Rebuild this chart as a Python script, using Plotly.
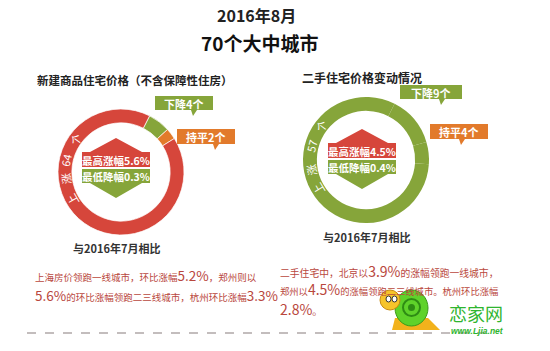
import math
import plotly.graph_objects as go

# ---------------- data ----------------
categories = ["下降", "持平", "上涨"]
new_counts = [4, 2, 64]          # 新建商品住宅
second_counts = [9, 4, 57]       # 二手住宅
new_extremes = [5.6, 0.3]        # 最高涨幅, 最低降幅
second_extremes = [4.5, 0.4]
title_month = "2016年8月"
title_main = "70个大中城市"
compare_label = "与2016年7月相比"

W, H = 550, 351
RED = "#d6463b"
GREEN = "#86a53a"
ORANGE = "#e27a2b"
TXT_RED = "#b9473d"
FONT = "Noto Sans CJK SC"


def px(x):
    return x / W


def py(y):
    return 1 - y / H


fig = go.Figure()

# donut geometry (pixel centre, radius)
L_C, L_R = (121, 172), 63
R_C, R_R = (366, 160), 63
HOLE = 0.78


def dom(c, r):
    return dict(x=[px(c[0] - r), px(c[0] + r)], y=[py(c[1] + r), py(c[1] - r)])


fig.add_trace(go.Pie(
    labels=categories, values=new_counts, sort=False, direction="clockwise",
    rotation=27, hole=HOLE, textinfo="none", hoverinfo="label+value",
    marker=dict(colors=[GREEN, ORANGE, RED], line=dict(color="rgba(255,255,255,0.7)", width=1)),
    domain=dom(L_C, L_R), showlegend=False,
))
fig.add_trace(go.Pie(
    labels=categories, values=second_counts, sort=False, direction="clockwise",
    rotation=27, hole=HOLE, textinfo="none", hoverinfo="label+value",
    marker=dict(colors=[GREEN, GREEN, GREEN], line=dict(color=GREEN, width=0)),
    domain=dom(R_C, R_R), showlegend=False,
))

shapes = []
ann = []


def text(x, y, t, size, color="#222", bold=False, angle=0, xanchor="center", family=FONT):
    if bold:
        t = "<b>" + t + "</b>"
    ann.append(dict(x=px(x), y=py(y), xref="paper", yref="paper", text=t, showarrow=False,
                    font=dict(size=size, color=color, family=family), textangle=angle,
                    xanchor=xanchor, yanchor="middle"))


def poly(points, color):
    d = "M " + " L ".join(f"{px(a):.5f},{py(b):.5f}" for a, b in points) + " Z"
    shapes.append(dict(type="path", path=d, xref="paper", yref="paper",
                       fillcolor=color, line=dict(width=0), layer="above"))


# titles
text(256, 15, title_month, 16, "#222", bold=True)
text(259, 43, title_main, 19, "#111", bold=True)
text(135, 80, "新建商品住宅价格（不含保障性住房）", 11.5, "#222", bold=True)
text(362, 77, "二手住宅价格变动情况", 12, "#222", bold=True)
text(116, 248, compare_label, 11, "#333", bold=True)
text(366, 237, compare_label, 11, "#333", bold=True)


# hexagon badges
def badge(cx, top, hi, lo):
    half = 34
    poly([(cx, top), (cx + half - 8, top + 14), (cx + half, top + 14), (cx + half, top + 29),
          (cx - half, top + 29), (cx - half, top + 14), (cx - half + 8, top + 14)], RED)
    poly([(cx - half, top + 31), (cx + half, top + 31), (cx + half, top + 45),
          (cx + half - 8, top + 45), (cx, top + 60), (cx - half + 8, top + 45), (cx - half, top + 45)], GREEN)
    text(cx, top + 22, f"最高涨幅{hi}%", 10.5, "white", bold=True)
    text(cx, top + 38, f"最低降幅{lo}%", 10.5, "white", bold=True)


badge(116, 138, *new_extremes)
badge(362, 129, *second_extremes)


# callout boxes
def callout(x0, y0, x1, y1, tail_x, color, label):
    poly([(x0, y0), (x1, y0), (x1, y1), (tail_x + 3, y1), (tail_x - 1, y1 + 6),
          (tail_x - 3, y1), (x0, y1)], color)
    text((x0 + x1) / 2, (y0 + y1) / 2 + 0.5, label, 11, "white", bold=True)


callout(155, 96, 213, 110, 194, GREEN, f"{categories[0]}{new_counts[0]}个")
callout(177, 129, 235, 144, 216, ORANGE, f"持平{new_counts[1]}个")
callout(400, 85, 462, 99, 442, GREEN, f"{categories[0]}{second_counts[0]}个")
callout(430, 124, 488, 139, 462, ORANGE, f"持平{second_counts[1]}个")


# ring text
def ring_text(c, r, chars, angles):
    rm = r * (1 + HOLE) / 2
    for ch, a in zip(chars, angles):
        rad = math.radians(a)
        x = c[0] - rm * math.sin(rad)
        y = c[1] - rm * math.cos(rad)
        text(x, y, ch, 11, "white", angle=-a)


ring_text(L_C, L_R, ["个", str(new_counts[2]), "涨", "上"], [54, 78, 97, 120])
ring_text(R_C, R_R, ["个", str(second_counts[2]), "涨", "上"], [53, 76, 100, 121])


# paragraphs
def big(s, size):
    return f"<span style='font-size:{size}px'>{s}</span>"


text(33, 275, "上海房价领跑一线城市，环比涨幅" + big("5.2%", 13.5) + "，郑州则以", 9.5, TXT_RED, xanchor="left")
text(33, 295, big("5.6%", 13.5) + "的环比涨幅领跑二三线城市，杭州环比涨幅" + big("3.3%", 13.5), 9.5, TXT_RED, xanchor="left")
text(278, 271, "二手住宅中，北京以" + big("3.9%", 14) + "的涨幅领跑一线城市，", 9.8, TXT_RED, xanchor="left")
text(278, 289, "郑州以" + big("4.5%", 14) + "的涨幅领跑二三线城市。杭州环比涨幅", 9.3, TXT_RED, xanchor="left")
text(278, 309, big("2.8%", 14) + "。", 10, TXT_RED, xanchor="left")

# dashed separator
shapes.append(dict(type="line", xref="paper", yref="paper", x0=px(27), x1=px(492), y0=py(333), y1=py(333),
                   line=dict(color="#b0a8a8", width=1.5, dash="dash")))

# logo (snail + site name)
shapes.append(dict(type="path", xref="paper", yref="paper",
                   path=f"M {px(392)},{py(330)} L {px(440)},{py(330)} L {px(428)},{py(318)} L {px(395)},{py(318)} Z",
                   fillcolor="#f2b21c", line=dict(width=0)))
shapes.append(dict(type="circle", xref="paper", yref="paper", x0=px(395), x1=px(428), y0=py(326), y1=py(290),
                   fillcolor="#5fd22a", line=dict(color="#3a9a1a", width=1)))
shapes.append(dict(type="circle", xref="paper", yref="paper", x0=px(403), x1=px(420), y0=py(316), y1=py(299),
                   fillcolor="rgba(0,0,0,0)", line=dict(color="#2e8c14", width=2)))
shapes.append(dict(type="circle", xref="paper", yref="paper", x0=px(408), x1=px(415), y0=py(311), y1=py(304),
                   fillcolor="#2e8c14", line=dict(width=0)))
shapes.append(dict(type="circle", xref="paper", yref="paper", x0=px(380), x1=px(400), y0=py(310), y1=py(290),
                   fillcolor="#f6c42a", line=dict(color="#c88a10", width=1)))
shapes.append(dict(type="circle", xref="paper", yref="paper", x0=px(386), x1=px(391), y0=py(302), y1=py(296),
                   fillcolor="white", line=dict(color="#333", width=1)))
shapes.append(dict(type="circle", xref="paper", yref="paper", x0=px(392), x1=px(397), y0=py(302), y1=py(296),
                   fillcolor="white", line=dict(color="#333", width=1)))
text(476, 313, "恋家网", 18, "#2fb52f", bold=False)
text(477, 331, "<i>www.Ljia.net</i>", 8.5, "#2fb52f", bold=True, family="Liberation Sans")

fig.update_layout(
    width=W, height=H, margin=dict(l=0, r=0, t=0, b=0),
    paper_bgcolor="white", plot_bgcolor="white",
    shapes=shapes, annotations=ann, showlegend=False,
)

fig.write_html("out.html")
